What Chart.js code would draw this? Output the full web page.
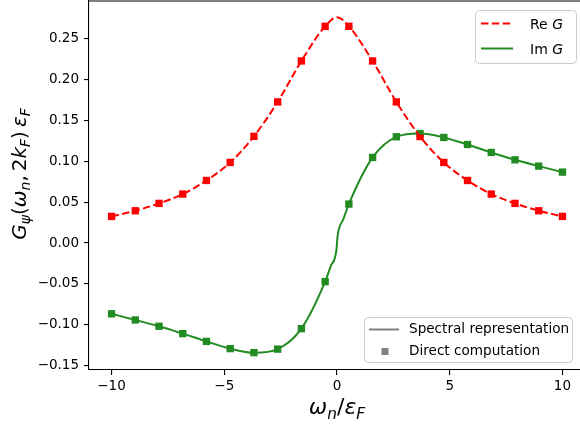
<!DOCTYPE html>
<html><head><meta charset="utf-8">
<script src="https://cdn.jsdelivr.net/npm/chart.js@4"></script>
<style>html,body{margin:0;padding:0;overflow:hidden;background:#fff;width:580px;height:427px}</style>
</head><body>
<canvas id="c" width="585" height="427"></canvas>
<script>
// ---- data ----
const omega = [-10, -8.947, -7.895, -6.842, -5.789, -4.737, -3.684, -2.632, -1.579, -0.526,
               0.526, 1.579, 2.632, 3.684, 4.737, 5.789, 6.842, 7.895, 8.947, 10];
const reG = [0.0325, 0.0394, 0.0484, 0.0598, 0.0764, 0.0984, 0.1303, 0.1723, 0.2223, 0.2646,
             0.2646, 0.2223, 0.1723, 0.1300, 0.0984, 0.0764, 0.0598, 0.0484, 0.0394, 0.0325];
const imG = [-0.0864, -0.0939, -0.1016, -0.1106, -0.1201, -0.1289, -0.1338, -0.1295, -0.1045, -0.0472,
             0.0476, 0.1045, 0.1297, 0.1337, 0.1289, 0.1203, 0.1106, 0.1016, 0.0939, 0.0866];
// spectral-representation curves (marker points plus extra readings near omega = 0)
const omegaLineRe = [-10, -8.947, -7.895, -6.842, -5.789, -4.737, -3.684, -2.632, -1.579, -0.526, 0,
                     0.526, 1.579, 2.632, 3.684, 4.737, 5.789, 6.842, 7.895, 8.947, 10];
const reGLine = [0.0325, 0.0394, 0.0484, 0.0598, 0.0764, 0.0984, 0.1303, 0.1723, 0.2223, 0.2646, 0.2756,
                 0.2646, 0.2223, 0.1723, 0.1300, 0.0984, 0.0764, 0.0598, 0.0484, 0.0394, 0.0325];
const omegaLineIm = [-10, -8.947, -7.895, -6.842, -5.789, -4.737, -3.684, -2.632, -1.579, -0.526, -0.28, -0.03,
                     0.03, 0.28, 0.526, 1.579, 2.632, 3.684, 4.737, 5.789, 6.842, 7.895, 8.947, 10];
const imGLine = [-0.0864, -0.0939, -0.1016, -0.1106, -0.1201, -0.1289, -0.1340, -0.1295, -0.1045, -0.0472, -0.0284, -0.0094,
                 0.0094, 0.0290, 0.0476, 0.1045, 0.1297, 0.1337, 0.1289, 0.1203, 0.1106, 0.1016, 0.0939, 0.0866];
const xTicks = [-10, -5, 0, 5, 10];
const yTicks = [-0.15, -0.10, -0.05, 0.00, 0.05, 0.10, 0.15, 0.20, 0.25];
const xRange = [-11, 11];
const yRange = [-0.155, 0.2955];

const FONT = "'DejaVu Sans', sans-serif";
const RED = '#ff0000', GREEN = '#228b22', GRAY = '#808080';
const pts = (xs, ys) => xs.map((x, i) => ({x, y: ys[i]}));
const minus = s => s.replace('-', '\u2212');

function mathWidth(ctx, segs, size) {
  let w = 0;
  for (const s of segs) {
    ctx.font = (s.it ? 'italic ' : '') + (s.sub ? size * 0.7 : size) + 'px ' + FONT;
    w += ctx.measureText(s.t).width;
  }
  return w;
}
function drawMath(ctx, segs, size, x, y) {
  ctx.textBaseline = 'alphabetic';
  ctx.textAlign = 'left';
  for (const s of segs) {
    const fs = s.sub ? size * 0.7 : size;
    ctx.font = (s.it ? 'italic ' : '') + fs + 'px ' + FONT;
    ctx.fillText(s.t, x, y + (s.sub ? size * 0.22 : 0));
    x += ctx.measureText(s.t).width;
  }
}
function rrect(ctx, x, y, w, h, r) {
  ctx.beginPath();
  ctx.moveTo(x + r, y);
  ctx.arcTo(x + w, y, x + w, y + h, r);
  ctx.arcTo(x + w, y + h, x, y + h, r);
  ctx.arcTo(x, y + h, x, y, r);
  ctx.arcTo(x, y, x + w, y, r);
  ctx.closePath();
}

const decor = {
  id: 'decor',
  afterDraw(chart) {
    const ctx = chart.ctx, a = chart.chartArea;
    ctx.save();
    // frame top/right
    ctx.strokeStyle = '#000'; ctx.lineWidth = 1.1;
    ctx.beginPath();
    ctx.moveTo(a.left, a.top); ctx.lineTo(a.right, a.top); ctx.lineTo(a.right, a.bottom);
    ctx.stroke();
    ctx.fillStyle = '#000';
    // x label
    const xl = [{t:'ω', it:1}, {t:'n', it:1, sub:1}, {t:'/'}, {t:'ε', it:1}, {t:'F', it:1, sub:1}];
    drawMath(ctx, xl, 22, 337 - mathWidth(ctx, xl, 22) / 2, 414);
    // y label
    const yl = [{t:'G', it:1}, {t:'ψ', it:1, sub:1}, {t:'('}, {t:'ω', it:1}, {t:'n', it:1, sub:1},
                {t:',\u20092'}, {t:'k', it:1}, {t:'F', it:1, sub:1}, {t:')\u2009'}, {t:'ε', it:1}, {t:'F', it:1, sub:1}];
    const ys = 20;
    ctx.save();
    ctx.translate(26, 174);
    ctx.rotate(-Math.PI / 2);
    drawMath(ctx, yl, ys, -mathWidth(ctx, yl, ys) / 2, 0);
    ctx.restore();

    // legend 1
    ctx.lineWidth = 1;
    rrect(ctx, 475.5, 10.5, 101, 53, 4);
    ctx.fillStyle = 'rgba(255,255,255,0.8)'; ctx.fill();
    ctx.strokeStyle = '#cccccc'; ctx.stroke();
    ctx.lineWidth = 2;
    ctx.strokeStyle = RED; ctx.setLineDash([7.5, 3.3]);
    ctx.beginPath(); ctx.moveTo(481, 23.5); ctx.lineTo(513, 23.5); ctx.stroke();
    ctx.setLineDash([]);
    ctx.strokeStyle = GREEN;
    ctx.beginPath(); ctx.moveTo(481, 48.5); ctx.lineTo(513, 48.5); ctx.stroke();
    ctx.fillStyle = '#000';
    drawMath(ctx, [{t:'Re '}, {t:'G', it:1}], 14, 530, 28.5);
    drawMath(ctx, [{t:'Im '}, {t:'G', it:1}], 14, 530, 53.5);

    // legend 2
    ctx.lineWidth = 1;
    rrect(ctx, 364.5, 317.5, 208, 45, 4);
    ctx.fillStyle = 'rgba(255,255,255,0.8)'; ctx.fill();
    ctx.strokeStyle = '#cccccc'; ctx.stroke();
    ctx.lineWidth = 2; ctx.strokeStyle = GRAY;
    ctx.beginPath(); ctx.moveTo(369, 329.5); ctx.lineTo(399, 329.5); ctx.stroke();
    ctx.fillStyle = GRAY;
    ctx.fillRect(381.5, 348, 7, 7);
    ctx.fillStyle = '#000';
    ctx.font = '13.6px ' + FONT; ctx.textBaseline = 'middle'; ctx.textAlign = 'left';
    ctx.fillText('Spectral representation', 409, 329.5);
    ctx.fillText('Direct computation', 409, 351.5);
    ctx.restore();
  }
};

new Chart(document.getElementById('c'), {
  type: 'scatter',
  data: {
    datasets: [
      {data: pts(omegaLineRe, reGLine), showLine: true, borderColor: RED, borderWidth: 2,
       borderDash: [7.5, 3.3], pointRadius: 0, cubicInterpolationMode: 'monotone'},
      {data: pts(omegaLineIm, imGLine), showLine: true, borderColor: GREEN, borderWidth: 2,
       pointRadius: 0, cubicInterpolationMode: 'monotone'},
      {data: pts(omega, reG), showLine: false, pointStyle: 'rect', pointRadius: 5.2,
       pointBorderWidth: 0, backgroundColor: RED, pointBackgroundColor: RED},
      {data: pts(omega, imG), showLine: false, pointStyle: 'rect', pointRadius: 5.2,
       pointBorderWidth: 0, backgroundColor: GREEN, pointBackgroundColor: GREEN}
    ]
  },
  options: {
    responsive: false, animation: false, devicePixelRatio: 1,
    layout: {autoPadding: false, padding: {top: 1, left: 0, right: 0, bottom: 0}},
    plugins: {legend: {display: false}, tooltip: {enabled: false}},
    scales: {
      x: {
        type: 'linear', min: xRange[0], max: xRange[1],
        afterBuildTicks: s => { s.ticks = xTicks.map(v => ({value: v})); },
        afterFit: s => { s.height = 57; s.paddingLeft = 0; s.paddingRight = 0; },
        ticks: {callback: v => minus(String(v)), font: {family: FONT, size: 13.5}, color: '#000',
                padding: 3, maxRotation: 0, autoSkip: false},
        grid: {drawOnChartArea: false, drawTicks: true, tickLength: 5, color: '#000', lineWidth: 1.1},
        border: {display: true, color: '#000', width: 1.1}
      },
      y: {
        type: 'linear', min: yRange[0], max: yRange[1],
        afterBuildTicks: s => { s.ticks = yTicks.map(v => ({value: v})); },
        afterFit: s => { s.width = 89; s.paddingTop = 0; s.paddingBottom = 0; },
        ticks: {callback: v => minus(v.toFixed(2)), font: {family: FONT, size: 13.5}, color: '#000',
                padding: 5, autoSkip: false},
        grid: {drawOnChartArea: false, drawTicks: true, tickLength: 5, color: '#000', lineWidth: 1.1},
        border: {display: true, color: '#000', width: 1.1}
      }
    }
  },
  plugins: [decor]
});
</script>
</body></html>
